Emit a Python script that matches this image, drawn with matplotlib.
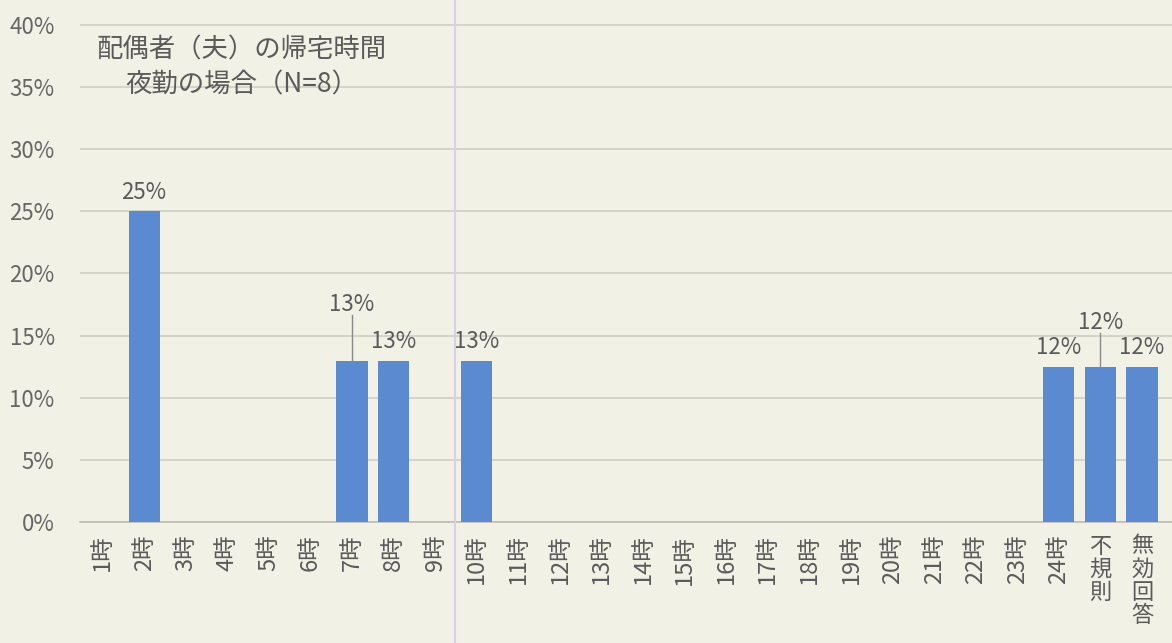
import matplotlib.pyplot as plt
from matplotlib.lines import Line2D

plt.rcParams['font.family'] = ['Noto Sans CJK JP', 'DejaVu Sans']

categories = ['1時', '2時', '3時', '4時', '5時', '6時', '7時', '8時', '9時', '10時',
              '11時', '12時', '13時', '14時', '15時', '16時', '17時', '18時', '19時',
              '20時', '21時', '22時', '23時', '24時', '不規則', '無効回答']
values = [0, 25, 0, 0, 0, 0, 13, 13, 0, 13,
          0, 0, 0, 0, 0, 0, 0, 0, 0,
          0, 0, 0, 0, 12.5, 12.5, 12.5]
value_labels = {1: '25%', 6: '13%', 7: '13%', 9: '13%', 23: '12%', 24: '12%', 25: '12%'}
raised = {6: 3.0, 24: 2.0}  # labels pulled up with a leader line

title_lines = ['配偶者（夫）の帰宅時間', '夜勤の場合（N=8）']

bg = '#f1f1e6'
bar_color = '#5b8ad0'
text_color = '#5a5a5a'

fig = plt.figure(figsize=(11.72, 6.43), dpi=100, facecolor=bg)
ax = fig.add_axes([0.068, 0.188, 0.932, 0.812])
ax.set_facecolor(bg)

x = list(range(len(categories)))
ax.bar(x, values, width=0.75, color=bar_color, zorder=3)

ax.set_xlim(-0.55, 25.72)
ax.set_ylim(0, 42)
ax.set_yticks(range(0, 45, 5))
ax.set_yticklabels([f'{v}%' for v in range(0, 45, 5)])
ax.yaxis.grid(True, color='#cfcfc6', linewidth=1.2, zorder=0)
for s in ['top', 'right', 'left']:
    ax.spines[s].set_visible(False)
ax.spines['bottom'].set_color('#bdbdb5')
ax.spines['bottom'].set_linewidth(1.2)
ax.tick_params(axis='y', length=0, pad=18, labelsize=16, labelcolor='#666666')
ax.tick_params(axis='x', length=0, pad=9, labelcolor=text_color)

ax.set_xticks(x)
labels = []
for c in categories:
    if c.endswith('時'):
        labels.append(c)
    else:
        labels.append('\n'.join(c))
ax.set_xticklabels(labels)
for lab, c in zip(ax.get_xticklabels(), categories):
    if c.endswith('時'):
        lab.set_rotation(90)
        lab.set_fontsize(17)
        lab.set_va('top')
    else:
        lab.set_rotation(0)
        lab.set_fontsize(16)
        lab.set_linespacing(1.0)
        lab.set_va('top')

for i, txt in value_labels.items():
    top = values[i]
    up = raised.get(i, 0)
    ty = top + 0.6 + up
    ax.text(i, ty, txt, ha='center', va='bottom', fontsize=16,
            color=text_color, zorder=4)
    if up:
        ax.plot([i, i], [top, ty + 0.1], color='#8a8a8a', linewidth=1, zorder=4)

ax.text(3.34, 38.0, title_lines[0], ha='center', va='center', fontsize=19, color=text_color)
ax.text(3.34, 35.2, title_lines[1], ha='center', va='center', fontsize=19, color=text_color)

# faint fold line of the scanned page
fig.add_artist(Line2D([455 / 1172, 455 / 1172], [0, 1], color='#d8d0e6', linewidth=1.5))

fig.savefig('out.png', dpi=100, facecolor=bg)
